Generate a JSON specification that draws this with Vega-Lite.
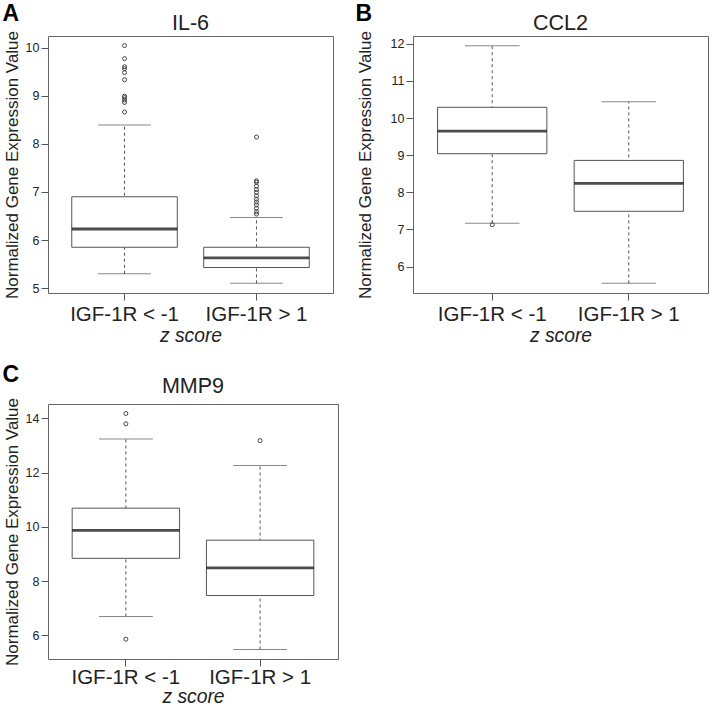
{
  "$schema": "https://vega.github.io/schema/vega-lite/v6.json",
  "padding": {"left": 2, "top": 3, "right": 0, "bottom": 0},
  "background": "white",
  "datasets": {
    "boxes": [
      {"gene": "IL-6", "group": "IGF-1R < -1", "lower": 5.30, "q1": 5.85, "median": 6.23, "q3": 6.90, "upper": 8.39},
      {"gene": "IL-6", "group": "IGF-1R > 1", "lower": 5.10, "q1": 5.43, "median": 5.63, "q3": 5.85, "upper": 6.47},
      {"gene": "CCL2", "group": "IGF-1R < -1", "lower": 7.17, "q1": 9.04, "median": 9.65, "q3": 10.29, "upper": 11.95},
      {"gene": "CCL2", "group": "IGF-1R > 1", "lower": 5.55, "q1": 7.49, "median": 8.24, "q3": 8.86, "upper": 10.44},
      {"gene": "MMP9", "group": "IGF-1R < -1", "lower": 6.70, "q1": 8.84, "median": 9.87, "q3": 10.69, "upper": 13.24},
      {"gene": "MMP9", "group": "IGF-1R > 1", "lower": 5.48, "q1": 7.47, "median": 8.49, "q3": 9.51, "upper": 12.26}
    ],
    "outliers": [
      {"gene": "IL-6", "group": "IGF-1R < -1", "value": 10.04},
      {"gene": "IL-6", "group": "IGF-1R < -1", "value": 9.77},
      {"gene": "IL-6", "group": "IGF-1R < -1", "value": 9.60},
      {"gene": "IL-6", "group": "IGF-1R < -1", "value": 9.56},
      {"gene": "IL-6", "group": "IGF-1R < -1", "value": 9.48},
      {"gene": "IL-6", "group": "IGF-1R < -1", "value": 9.33},
      {"gene": "IL-6", "group": "IGF-1R < -1", "value": 8.99},
      {"gene": "IL-6", "group": "IGF-1R < -1", "value": 8.96},
      {"gene": "IL-6", "group": "IGF-1R < -1", "value": 8.91},
      {"gene": "IL-6", "group": "IGF-1R < -1", "value": 8.86},
      {"gene": "IL-6", "group": "IGF-1R < -1", "value": 8.66},
      {"gene": "IL-6", "group": "IGF-1R > 1", "value": 8.14},
      {"gene": "IL-6", "group": "IGF-1R > 1", "value": 7.23},
      {"gene": "IL-6", "group": "IGF-1R > 1", "value": 7.20},
      {"gene": "IL-6", "group": "IGF-1R > 1", "value": 7.12},
      {"gene": "IL-6", "group": "IGF-1R > 1", "value": 7.05},
      {"gene": "IL-6", "group": "IGF-1R > 1", "value": 6.99},
      {"gene": "IL-6", "group": "IGF-1R > 1", "value": 6.92},
      {"gene": "IL-6", "group": "IGF-1R > 1", "value": 6.85},
      {"gene": "IL-6", "group": "IGF-1R > 1", "value": 6.79},
      {"gene": "IL-6", "group": "IGF-1R > 1", "value": 6.73},
      {"gene": "IL-6", "group": "IGF-1R > 1", "value": 6.66},
      {"gene": "IL-6", "group": "IGF-1R > 1", "value": 6.59},
      {"gene": "IL-6", "group": "IGF-1R > 1", "value": 6.54},
      {"gene": "CCL2", "group": "IGF-1R < -1", "value": 7.13},
      {"gene": "MMP9", "group": "IGF-1R < -1", "value": 14.18},
      {"gene": "MMP9", "group": "IGF-1R < -1", "value": 13.80},
      {"gene": "MMP9", "group": "IGF-1R < -1", "value": 5.86},
      {"gene": "MMP9", "group": "IGF-1R > 1", "value": 13.18}
    ]
  },
  "vconcat": [
    {
      "hconcat": [
        {
          "title": {"text": "A", "anchor": "start", "frame": "bounds", "fontSize": 23, "fontWeight": "bold", "color": "#000", "offset": -14},
          "vconcat": [
            {
              "width": 285, "height": 257,
              "title": {"text": "IL-6", "fontSize": 21.5, "offset": -4},
              "encoding": {
                "x": {"field": "group", "type": "nominal", "sort": ["IGF-1R < -1", "IGF-1R > 1"], "scale": {"type": "band", "paddingInner": 0.2, "paddingOuter": 0.18}, "axis": {"title": "z score", "labelAngle": 0, "labelFontSize": 20.5, "labelPadding": 4, "titleFontSize": 19.3, "titleFontStyle": "italic", "titlePadding": 2}}
              },
              "layer": [
                {"data": {"name": "boxes"}, "transform": [{"filter": "datum.gene === 'IL-6'"}],
                 "mark": {"type": "rule", "strokeDash": [3, 3], "color": "#555"},
                 "encoding": {"y": {"field": "lower", "type": "quantitative", "scale": {"domain": [4.9, 10.24], "nice": false, "zero": false}, "axis": {"title": "Normalized Gene Expression Value", "values": [5, 6, 7, 8, 9, 10], "labelFontSize": 12.5, "labelPadding": 2, "titleFontSize": 17, "titlePadding": 4}}, "y2": {"field": "upper"}}},
                {"data": {"name": "boxes"}, "transform": [{"filter": "datum.gene === 'IL-6'"}],
                 "mark": {"type": "tick", "orient": "horizontal", "size": 52.8, "thickness": 1, "color": "#555"},
                 "encoding": {"y": {"field": "lower", "type": "quantitative", "scale": {"domain": [4.9, 10.24], "nice": false, "zero": false}, "axis": {"title": "Normalized Gene Expression Value", "values": [5, 6, 7, 8, 9, 10], "labelFontSize": 12.5, "labelPadding": 2, "titleFontSize": 17, "titlePadding": 4}}}},
                {"data": {"name": "boxes"}, "transform": [{"filter": "datum.gene === 'IL-6'"}],
                 "mark": {"type": "tick", "orient": "horizontal", "size": 52.8, "thickness": 1, "color": "#555"},
                 "encoding": {"y": {"field": "upper", "type": "quantitative", "scale": {"domain": [4.9, 10.24], "nice": false, "zero": false}, "axis": {"title": "Normalized Gene Expression Value", "values": [5, 6, 7, 8, 9, 10], "labelFontSize": 12.5, "labelPadding": 2, "titleFontSize": 17, "titlePadding": 4}}}},
                {"data": {"name": "boxes"}, "transform": [{"filter": "datum.gene === 'IL-6'"}],
                 "mark": {"type": "bar", "fill": "white", "stroke": "#555", "strokeWidth": 1},
                 "encoding": {"y": {"field": "q1", "type": "quantitative", "scale": {"domain": [4.9, 10.24], "nice": false, "zero": false}, "axis": {"title": "Normalized Gene Expression Value", "values": [5, 6, 7, 8, 9, 10], "labelFontSize": 12.5, "labelPadding": 2, "titleFontSize": 17, "titlePadding": 4}}, "y2": {"field": "q3"}}},
                {"data": {"name": "boxes"}, "transform": [{"filter": "datum.gene === 'IL-6'"}],
                 "mark": {"type": "tick", "orient": "horizontal", "size": 105.5, "thickness": 2.8, "color": "#000"},
                 "encoding": {"y": {"field": "median", "type": "quantitative", "scale": {"domain": [4.9, 10.24], "nice": false, "zero": false}, "axis": {"title": "Normalized Gene Expression Value", "values": [5, 6, 7, 8, 9, 10], "labelFontSize": 12.5, "labelPadding": 2, "titleFontSize": 17, "titlePadding": 4}}}},
                {"data": {"name": "outliers"}, "transform": [{"filter": "datum.gene === 'IL-6'"}],
                 "mark": {"type": "point", "shape": "circle", "size": 16, "filled": false, "stroke": "#444", "strokeWidth": 1, "opacity": 1},
                 "encoding": {"y": {"field": "value", "type": "quantitative", "scale": {"domain": [4.9, 10.24], "nice": false, "zero": false}, "axis": {"title": "Normalized Gene Expression Value", "values": [5, 6, 7, 8, 9, 10], "labelFontSize": 12.5, "labelPadding": 2, "titleFontSize": 17, "titlePadding": 4}}}}
              ]
            }
          ]
        },
        {
          "title": {"text": "B", "anchor": "start", "frame": "bounds", "fontSize": 23, "fontWeight": "bold", "color": "#000", "offset": -14},
          "vconcat": [
            {
              "width": 295, "height": 257,
              "title": {"text": "CCL2", "fontSize": 21.5, "offset": -4},
              "encoding": {
                "x": {"field": "group", "type": "nominal", "sort": ["IGF-1R < -1", "IGF-1R > 1"], "scale": {"type": "band", "paddingInner": 0.2, "paddingOuter": 0.18}, "axis": {"title": "z score", "labelAngle": 0, "labelFontSize": 20.5, "labelPadding": 4, "titleFontSize": 19.3, "titleFontStyle": "italic", "titlePadding": 2}}
              },
              "layer": [
                {"data": {"name": "boxes"}, "transform": [{"filter": "datum.gene === 'CCL2'"}],
                 "mark": {"type": "rule", "strokeDash": [3, 3], "color": "#555"},
                 "encoding": {"y": {"field": "lower", "type": "quantitative", "scale": {"domain": [5.29, 12.21], "nice": false, "zero": false}, "axis": {"title": "Normalized Gene Expression Value", "values": [6, 7, 8, 9, 10, 11, 12], "labelFontSize": 12.5, "labelPadding": 2, "titleFontSize": 17, "titlePadding": 16}}, "y2": {"field": "upper"}}},
                {"data": {"name": "boxes"}, "transform": [{"filter": "datum.gene === 'CCL2'"}],
                 "mark": {"type": "tick", "orient": "horizontal", "size": 54.6, "thickness": 1, "color": "#555"},
                 "encoding": {"y": {"field": "lower", "type": "quantitative", "scale": {"domain": [5.29, 12.21], "nice": false, "zero": false}, "axis": {"title": "Normalized Gene Expression Value", "values": [6, 7, 8, 9, 10, 11, 12], "labelFontSize": 12.5, "labelPadding": 2, "titleFontSize": 17, "titlePadding": 16}}}},
                {"data": {"name": "boxes"}, "transform": [{"filter": "datum.gene === 'CCL2'"}],
                 "mark": {"type": "tick", "orient": "horizontal", "size": 54.6, "thickness": 1, "color": "#555"},
                 "encoding": {"y": {"field": "upper", "type": "quantitative", "scale": {"domain": [5.29, 12.21], "nice": false, "zero": false}, "axis": {"title": "Normalized Gene Expression Value", "values": [6, 7, 8, 9, 10, 11, 12], "labelFontSize": 12.5, "labelPadding": 2, "titleFontSize": 17, "titlePadding": 16}}}},
                {"data": {"name": "boxes"}, "transform": [{"filter": "datum.gene === 'CCL2'"}],
                 "mark": {"type": "bar", "fill": "white", "stroke": "#555", "strokeWidth": 1},
                 "encoding": {"y": {"field": "q1", "type": "quantitative", "scale": {"domain": [5.29, 12.21], "nice": false, "zero": false}, "axis": {"title": "Normalized Gene Expression Value", "values": [6, 7, 8, 9, 10, 11, 12], "labelFontSize": 12.5, "labelPadding": 2, "titleFontSize": 17, "titlePadding": 16}}, "y2": {"field": "q3"}}},
                {"data": {"name": "boxes"}, "transform": [{"filter": "datum.gene === 'CCL2'"}],
                 "mark": {"type": "tick", "orient": "horizontal", "size": 109.2, "thickness": 2.8, "color": "#000"},
                 "encoding": {"y": {"field": "median", "type": "quantitative", "scale": {"domain": [5.29, 12.21], "nice": false, "zero": false}, "axis": {"title": "Normalized Gene Expression Value", "values": [6, 7, 8, 9, 10, 11, 12], "labelFontSize": 12.5, "labelPadding": 2, "titleFontSize": 17, "titlePadding": 16}}}},
                {"data": {"name": "outliers"}, "transform": [{"filter": "datum.gene === 'CCL2'"}],
                 "mark": {"type": "point", "shape": "circle", "size": 16, "filled": false, "stroke": "#444", "strokeWidth": 1, "opacity": 1},
                 "encoding": {"y": {"field": "value", "type": "quantitative", "scale": {"domain": [5.29, 12.21], "nice": false, "zero": false}, "axis": {"title": "Normalized Gene Expression Value", "values": [6, 7, 8, 9, 10, 11, 12], "labelFontSize": 12.5, "labelPadding": 2, "titleFontSize": 17, "titlePadding": 16}}}}
              ]
            }
          ]
        }
      ],
      "spacing": 21
    },
    {
      "title": {"text": "C", "anchor": "start", "frame": "bounds", "fontSize": 23, "fontWeight": "bold", "color": "#000", "offset": -12},
      "vconcat": [
        {
          "width": 290, "height": 255,
          "title": {"text": "MMP9", "fontSize": 21.5, "offset": 0},
          "encoding": {
            "x": {"field": "group", "type": "nominal", "sort": ["IGF-1R < -1", "IGF-1R > 1"], "scale": {"type": "band", "paddingInner": 0.2, "paddingOuter": 0.18}, "axis": {"title": "z score", "labelAngle": 0, "labelFontSize": 20.5, "labelPadding": 1, "titleFontSize": 19.3, "titleFontStyle": "italic", "titlePadding": 0}}
          },
          "layer": [
            {"data": {"name": "boxes"}, "transform": [{"filter": "datum.gene === 'MMP9'"}],
             "mark": {"type": "rule", "strokeDash": [3, 3], "color": "#555"},
             "encoding": {"y": {"field": "lower", "type": "quantitative", "scale": {"domain": [5.13, 14.53], "nice": false, "zero": false}, "axis": {"title": "Normalized Gene Expression Value", "values": [6, 8, 10, 12, 14], "labelFontSize": 12.5, "labelPadding": 2, "titleFontSize": 17, "titlePadding": 4}}, "y2": {"field": "upper"}}},
            {"data": {"name": "boxes"}, "transform": [{"filter": "datum.gene === 'MMP9'"}],
             "mark": {"type": "tick", "orient": "horizontal", "size": 53.7, "thickness": 1, "color": "#555"},
             "encoding": {"y": {"field": "lower", "type": "quantitative", "scale": {"domain": [5.13, 14.53], "nice": false, "zero": false}, "axis": {"title": "Normalized Gene Expression Value", "values": [6, 8, 10, 12, 14], "labelFontSize": 12.5, "labelPadding": 2, "titleFontSize": 17, "titlePadding": 4}}}},
            {"data": {"name": "boxes"}, "transform": [{"filter": "datum.gene === 'MMP9'"}],
             "mark": {"type": "tick", "orient": "horizontal", "size": 53.7, "thickness": 1, "color": "#555"},
             "encoding": {"y": {"field": "upper", "type": "quantitative", "scale": {"domain": [5.13, 14.53], "nice": false, "zero": false}, "axis": {"title": "Normalized Gene Expression Value", "values": [6, 8, 10, 12, 14], "labelFontSize": 12.5, "labelPadding": 2, "titleFontSize": 17, "titlePadding": 4}}}},
            {"data": {"name": "boxes"}, "transform": [{"filter": "datum.gene === 'MMP9'"}],
             "mark": {"type": "bar", "fill": "white", "stroke": "#555", "strokeWidth": 1},
             "encoding": {"y": {"field": "q1", "type": "quantitative", "scale": {"domain": [5.13, 14.53], "nice": false, "zero": false}, "axis": {"title": "Normalized Gene Expression Value", "values": [6, 8, 10, 12, 14], "labelFontSize": 12.5, "labelPadding": 2, "titleFontSize": 17, "titlePadding": 4}}, "y2": {"field": "q3"}}},
            {"data": {"name": "boxes"}, "transform": [{"filter": "datum.gene === 'MMP9'"}],
             "mark": {"type": "tick", "orient": "horizontal", "size": 107.4, "thickness": 2.8, "color": "#000"},
             "encoding": {"y": {"field": "median", "type": "quantitative", "scale": {"domain": [5.13, 14.53], "nice": false, "zero": false}, "axis": {"title": "Normalized Gene Expression Value", "values": [6, 8, 10, 12, 14], "labelFontSize": 12.5, "labelPadding": 2, "titleFontSize": 17, "titlePadding": 4}}}},
            {"data": {"name": "outliers"}, "transform": [{"filter": "datum.gene === 'MMP9'"}],
             "mark": {"type": "point", "shape": "circle", "size": 16, "filled": false, "stroke": "#444", "strokeWidth": 1, "opacity": 1},
             "encoding": {"y": {"field": "value", "type": "quantitative", "scale": {"domain": [5.13, 14.53], "nice": false, "zero": false}, "axis": {"title": "Normalized Gene Expression Value", "values": [6, 8, 10, 12, 14], "labelFontSize": 12.5, "labelPadding": 2, "titleFontSize": 17, "titlePadding": 4}}}}
          ]
        }
      ]
    }
  ],
  "spacing": 17,
  "config": {
    "font": "Liberation Sans",
    "view": {"stroke": "#666", "strokeWidth": 1},
    "axis": {"domain": false, "grid": false, "tickColor": "#555", "tickSize": 7, "labelColor": "#222", "titleColor": "#222", "titleFontWeight": "normal"},
    "title": {"color": "#222", "fontWeight": "normal"}
  }
}
